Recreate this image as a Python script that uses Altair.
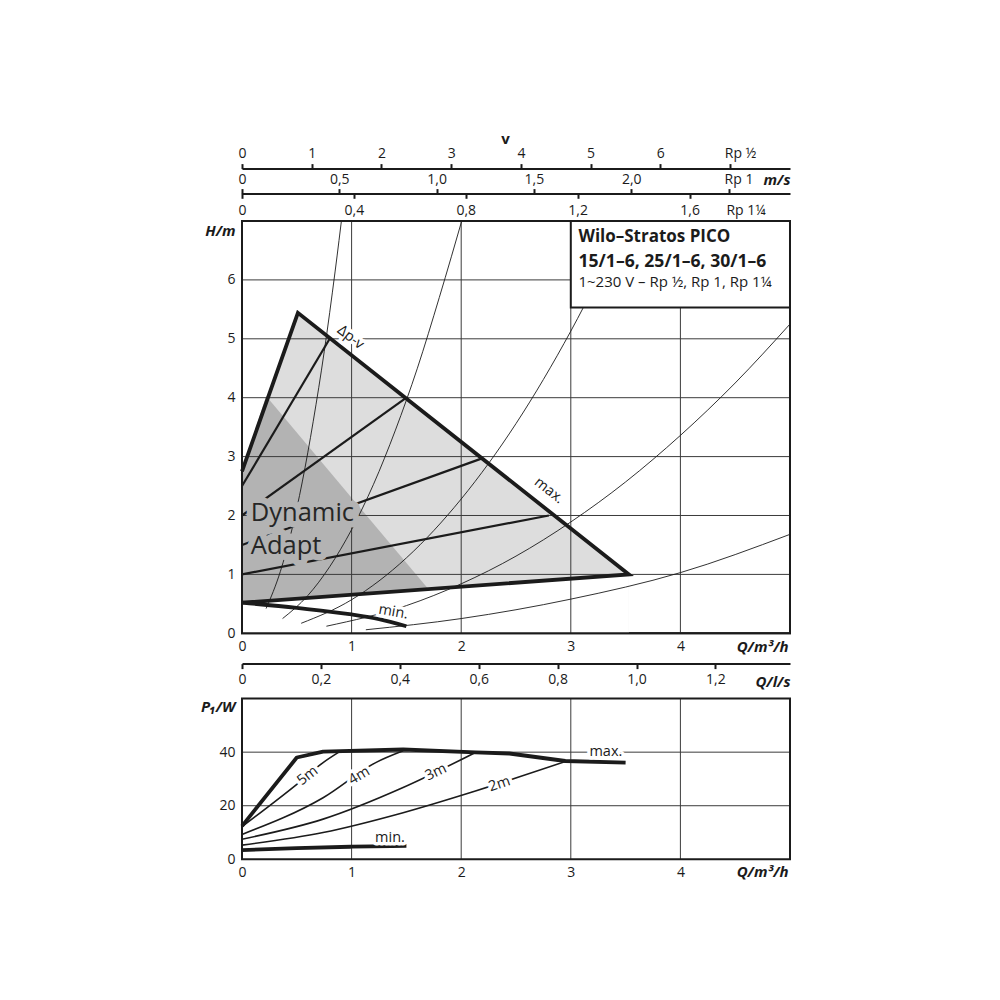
import altair as alt
import pandas as pd

FONT = "Open Sans"
INK = "#1b1b1b"
GRID = "#3a3a3a"
LIGHT = "#dddddd"
DARK = "#b3b3b3"

PLOT_W = 548
TOP_H = 412.3          # height of the H(Q) panel
BOT_TOP = 477.6        # top edge of the P1(Q) panel, measured from the top of the H(Q) panel
BOT_BOTTOM = 638.3     # bottom edge of the P1(Q) panel

# ---------------- scale extents ----------------
Q_MAX = 5.0
H_MAX = 7.0
P_MAX = 60.0
LS_AT_QMAX = 1.389
V12_AT_QMAX = 7.86
V1_AT_QMAX = 2.816
V114_AT_QMAX = 1.959

# ---------------- tick values ----------------
q_ticks = [0, 1, 2, 3, 4]
h_ticks = [0, 1, 2, 3, 4, 5, 6]
p_ticks = [0, 20, 40]
grid_q = [1, 2, 3, 4]
grid_h = [1, 2, 3, 4, 5, 6]
grid_p = [20, 40]
ls_ticks = [0, 0.2, 0.4, 0.6, 0.8, 1.0, 1.2]
v12_ticks = [0, 1, 2, 3, 4, 5, 6, 7]
v1_ticks = [0, 0.5, 1.0, 1.5, 2.0, 2.5]
v114_ticks = [0, 0.4, 0.8, 1.2, 1.6]
v114_labels = [0, 0.4, 0.8, 1.2, 1.6, 1.8]

# ---------------- H(Q) field ----------------
field_max_q = [0.0, 0.51, 3.53, 0.0]
field_max_h = [2.75, 5.44, 1.00, 0.52]
field_top_q = [0.0, 0.51, 3.53]
field_top_h = [2.75, 5.44, 1.00]
adapt_q = [0.0, 0.22, 1.70]
adapt_h = [2.75, 4.03, 0.75]
base_q = [0.0, 3.53]
base_h = [0.52, 1.00]
hmin_q = [0.0, 0.5, 1.0, 1.25, 1.5]
hmin_h = [0.52, 0.43, 0.32, 0.24, 0.12]

dpv_names = ["5m", "4m", "3m", "2m"]
dpv_q = [[0.0, 0.80], [0.0, 1.50], [0.0, 2.19], [0.0, 2.80]]
dpv_h = [[2.50, 5.00], [2.00, 4.00], [1.50, 2.97], [1.00, 2.00]]

sys_names = ["A", "B", "C", "D", "E"]
sys_q = [
    [0.22, 0.35, 0.45, 0.55, 0.65, 0.75, 0.85, 0.92],
    [0.37, 0.60, 0.80, 1.00, 1.20, 1.40, 1.60, 1.80, 2.02],
    [0.54, 1.00, 1.50, 2.00, 2.50, 3.00, 3.50],
    [0.77, 1.50, 2.00, 2.50, 3.00, 3.50, 4.00, 4.50, 5.00],
    [1.13, 2.00, 3.00, 4.00, 5.00],
]
sys_h = [
    [0.42, 1.05, 1.72, 2.57, 3.60, 4.78, 6.15, 7.20],
    [0.25, 0.64, 1.13, 1.76, 2.53, 3.45, 4.50, 5.70, 7.10],
    [0.17, 0.57, 1.28, 2.28, 3.56, 5.13, 6.98],
    [0.12, 0.47, 0.84, 1.31, 1.89, 2.57, 3.36, 4.25, 5.25],
    [0.06, 0.25, 0.58, 1.03, 1.68],
]

top_lab_q = [0.99, 2.80, 1.38]
top_lab_h = [5.02, 2.42, 0.36]
top_lab_t = ["\u0394p-v", "max.", "min."]
top_lab_a = [38, 38, 10]

da_q = [0.08, 0.08]
da_h = [2.05, 1.49]
da_t = ["Dynamic", "Adapt"]

box_q1, box_q2, box_h1, box_h2 = [3.0], [5.0], [5.53], [7.0]
box_text_q = 3.07
box_bold_h = [6.73, 6.30]
box_bold_t = ["Wilo\u2013Stratos PICO", "15/1\u20136, 25/1\u20136, 30/1\u20136"]
box_bold_s = [17, 17.6]
box_reg_h = [5.96]
box_reg_t = ["1~230 V \u2013 Rp \u00bd, Rp 1, Rp 1\u00bc"]

# ---------------- P1(Q) ----------------
pmax_q = [0.0, 0.50, 0.74, 1.47, 2.13, 2.44, 2.95, 3.50]
pmax_p = [12.4, 38.0, 40.2, 41.0, 39.9, 39.5, 36.7, 36.1]
pmin_q = [0.0, 0.5, 1.0, 1.5]
pmin_p = [3.4, 4.2, 4.7, 5.0]
p_names = ["5m", "4m", "3m", "2m"]
p_q = [[0.0, 0.50, 0.74, 0.88],
       [0.0, 0.74, 1.22, 1.47],
       [0.0, 0.74, 1.47, 2.13],
       [0.0, 0.74, 1.47, 2.13, 2.95]]
p_p = [[12.2, 28.0, 36.1, 39.9],
       [9.3, 23.0, 36.1, 40.5],
       [7.5, 15.0, 26.8, 39.9],
       [5.3, 10.0, 17.4, 25.5, 36.5]]

bot_lab_q = [0.60, 1.07, 1.77, 2.35, 1.35, 3.32]
bot_lab_p = [31.1, 31.1, 32.4, 28.0, 8.1, 40.1]
bot_lab_t = ["5m", "4m", "3m", "2m", "min.", "max."]
bot_lab_a = [322, 329, 334, 341, 0, 0]


def long_df(names, qs, vs, vname):
    rows = []
    for n, ql, vl in zip(names, qs, vs):
        for i, (a, b) in enumerate(zip(ql, vl)):
            rows.append({"c": n, "i": i, "q": a, vname: b})
    return pd.DataFrame(rows)


COMMA = "datum.value == 0 ? '0' : replace(format(datum.value, '.1f'), '.', ',')"
TITLE_KW = dict(titleFont=FONT, titleFontWeight="bold", titleFontStyle="italic",
                titleFontSize=15, titleColor=INK, titleAngle=0, titleBaseline="middle")
LABEL_KW = dict(labelFont=FONT, labelFontSize=14, labelColor=INK, labelFlush=False,
                labelOverlap=False, grid=False)


def XQ(axis=None, field="q"):
    return alt.X(f"{field}:Q", scale=alt.Scale(domain=[0, Q_MAX], nice=False, zero=False), axis=axis)


def YH(axis=None, field="h"):
    return alt.Y(f"{field}:Q", scale=alt.Scale(domain=[0, H_MAX], range=[TOP_H, 0], nice=False,
                                               zero=False), axis=axis)


def YP(axis=None, field="p"):
    return alt.Y(f"{field}:Q", scale=alt.Scale(domain=[0, P_MAX], range=[BOT_BOTTOM, BOT_TOP],
                                               nice=False, zero=False), axis=axis)


layers = []

# ---------- H(Q) panel ----------
layers.append(alt.Chart(pd.DataFrame({"q": field_top_q, "h": field_top_h})).mark_area(
    color=LIGHT).encode(x=XQ(), y=YH()))
layers.append(alt.Chart(pd.DataFrame({"q": adapt_q, "h": adapt_h})).mark_area(
    color=DARK).encode(x=XQ(), y=YH()))
layers.append(alt.Chart(pd.DataFrame({"q": base_q, "h": base_h})).mark_area(
    color="white").encode(x=XQ(), y=YH()))

x_top_axis = alt.Axis(orient="bottom", values=q_ticks, ticks=False, tickSize=0, domain=False,
                      labelPadding=6, title="Q/m\u00b3/h", titleX=546, titleY=13.7,
                      titleAlign="right", **TITLE_KW, **LABEL_KW)
y_top_axis = alt.Axis(orient="left", values=h_ticks, ticks=False, tickSize=0, domain=False,
                      labelPadding=7, title="H/m", titleX=-7, titleY=9.3, titleAlign="right",
                      **TITLE_KW, **LABEL_KW)
layers.append(alt.Chart(pd.DataFrame({"q": grid_q})).mark_rule(color=GRID, strokeWidth=1).encode(
    x=XQ(x_top_axis)))
layers.append(alt.Chart(pd.DataFrame({"h": grid_h})).mark_rule(color=GRID, strokeWidth=1).encode(
    y=YH(y_top_axis)))

layers.append(alt.Chart(long_df(sys_names, sys_q, sys_h, "h")).mark_line(
    color=INK, strokeWidth=0.9, interpolate="monotone", clip=True).encode(
    x=XQ(), y=YH(), detail="c:N", order="i:Q"))
layers.append(alt.Chart(long_df(dpv_names, dpv_q, dpv_h, "h")).mark_line(
    color=INK, strokeWidth=2.2).encode(x=XQ(), y=YH(), detail="c:N", order="i:Q"))
max_df = pd.DataFrame({"q": field_max_q, "h": field_max_h, "i": range(len(field_max_q))})
layers.append(alt.Chart(max_df).mark_line(color=INK, strokeWidth=3.8, strokeJoin="miter").encode(
    x=XQ(), y=YH(), order="i:Q"))
layers.append(alt.Chart(pd.DataFrame({"q": hmin_q, "h": hmin_h})).mark_line(
    color=INK, strokeWidth=3.8, interpolate="monotone").encode(x=XQ(), y=YH()))

top_lab_df = pd.DataFrame({"q": top_lab_q, "h": top_lab_h, "t": top_lab_t, "a": top_lab_a})
layers.append(alt.Chart(top_lab_df).mark_text(
    font=FONT, fontSize=14.5, color="white", stroke="white", strokeWidth=7, strokeJoin="round",
    baseline="middle").encode(x=XQ(), y=YH(), text="t:N", angle=alt.Angle("a:Q", scale=None)))
layers.append(alt.Chart(top_lab_df).mark_text(
    font=FONT, fontSize=14.5, color=INK, baseline="middle").encode(
    x=XQ(), y=YH(), text="t:N", angle=alt.Angle("a:Q", scale=None)))

da_df = pd.DataFrame({"q": da_q, "h": da_h, "t": da_t})
layers.append(alt.Chart(da_df).mark_text(
    font=FONT, fontSize=25.5, align="left", baseline="middle", color=DARK, stroke=DARK,
    strokeWidth=13, strokeJoin="round").encode(x=XQ(), y=YH(), text="t:N"))
layers.append(alt.Chart(da_df).mark_text(
    font=FONT, fontSize=25.5, align="left", baseline="middle", color="#262626").encode(
    x=XQ(), y=YH(), text="t:N"))

box_df = pd.DataFrame({"q": box_q1, "q2": box_q2, "h": box_h1, "h2": box_h2})
layers.append(alt.Chart(box_df).mark_rect(fill="white", stroke=INK, strokeWidth=2).encode(
    x=XQ(), x2="q2:Q", y=YH(), y2="h2:Q"))
layers.append(alt.Chart(pd.DataFrame({"q": [box_text_q] * 2, "h": box_bold_h, "t": box_bold_t,
                                      "s": box_bold_s})).mark_text(
    font=FONT, fontWeight="bold", align="left", baseline="middle", color=INK).encode(
    x=XQ(), y=YH(), text="t:N", size=alt.Size("s:Q", scale=None)))
layers.append(alt.Chart(pd.DataFrame({"q": [box_text_q], "h": box_reg_h, "t": box_reg_t})).mark_text(
    font=FONT, fontSize=15, align="left", baseline="middle", color=INK).encode(
    x=XQ(), y=YH(), text="t:N"))

top_frame = pd.DataFrame({"q": [0.0], "q2": [Q_MAX], "h": [0.0], "h2": [H_MAX]})
layers.append(alt.Chart(top_frame).mark_rect(fillOpacity=0, stroke=INK, strokeWidth=2).encode(
    x=XQ(), x2="q2:Q", y=YH(), y2="h2:Q"))


# ---------- velocity / l/s axes ----------
def axis_layer(values, dmax, axis):
    return alt.Chart(pd.DataFrame({"v": values})).mark_point(opacity=0).encode(
        x=alt.X("v:Q", scale=alt.Scale(domain=[0, dmax], nice=False, zero=False), axis=axis))


layers.append(axis_layer(v12_ticks, V12_AT_QMAX, alt.Axis(
    orient="top", offset=52.4, values=v12_ticks,
    labelExpr="datum.value == 7 ? 'Rp \u00bd' : format(datum.value, 'd')",
    labelOffset={"condition": {"test": "datum.value == 7", "value": 10}, "value": 0},
    labelPadding=3, domain=True, domainColor=INK, domainWidth=2,
    ticks=True, tickSize=5, tickWidth=2, tickColor=INK,
    title="v", titleFont=FONT, titleFontWeight="bold", titleFontSize=15, titleColor=INK,
    titleX=263, titleY=-30, titleAngle=0, titleAlign="center", titleBaseline="middle",
    **LABEL_KW)))
layers.append(axis_layer(v1_ticks, V1_AT_QMAX, alt.Axis(
    orient="top", offset=27.4, values=v1_ticks,
    labelExpr="datum.value == 2.5 ? 'Rp 1' : " + COMMA,
    labelOffset={"condition": {"test": "datum.value == 2.5", "value": 10}, "value": 0},
    labelPadding=2, domain=True, domainColor=INK, domainWidth=2,
    ticks=True, tickSize=5, tickWidth=2, tickColor=INK,
    title="m/s", titleX=534.5, titleY=-14, titleAlign="center", **TITLE_KW, **LABEL_KW)))
layers.append(axis_layer(v114_labels, V114_AT_QMAX, alt.Axis(
    orient="top", offset=0, values=v114_labels,
    labelExpr="datum.value == 1.8 ? 'Rp 1\u00bc' : " + COMMA,
    labelPadding=3, domain=False, ticks=False, tickSize=0, title=None, **LABEL_KW)))
layers.append(axis_layer(v114_ticks, V114_AT_QMAX, alt.Axis(
    orient="top", offset=22.7, values=v114_ticks, labels=False, domain=False,
    ticks=True, tickSize=5, tickWidth=2, tickColor=INK, title=None, grid=False)))
layers.append(axis_layer(ls_ticks, LS_AT_QMAX, alt.Axis(
    orient="bottom", offset=30.3, values=ls_ticks, labelExpr=COMMA,
    labelPadding=4, domain=True, domainColor=INK, domainWidth=2,
    ticks=True, tickSize=5, tickWidth=2, tickColor=INK,
    title="Q/l/s", titleX=548, titleY=17.7, titleAlign="right", **TITLE_KW, **LABEL_KW)))

# ---------- P1(Q) panel ----------
x_bot_axis = alt.Axis(orient="bottom", offset=BOT_BOTTOM - TOP_H, values=q_ticks, ticks=False,
                      tickSize=0, domain=False, labelPadding=6, title="Q/m\u00b3/h", titleX=546,
                      titleY=12.7, titleAlign="right", **TITLE_KW, **LABEL_KW)
y_bot_axis = alt.Axis(orient="left", values=p_ticks, ticks=False, tickSize=0, domain=False,
                      labelPadding=7, title="P\u2081/W", titleX=-7, titleY=BOT_TOP + 8.4,
                      titleAlign="right", **TITLE_KW, **LABEL_KW)

bgv = pd.DataFrame({"q": grid_q, "p": [0.0] * len(grid_q), "p2": [P_MAX] * len(grid_q)})
layers.append(alt.Chart(bgv).mark_rule(color=GRID, strokeWidth=1).encode(
    x=XQ(x_bot_axis), y=YP(), y2="p2:Q"))
bgh = pd.DataFrame({"p": grid_p, "q": [0.0] * len(grid_p), "q2": [Q_MAX] * len(grid_p)})
layers.append(alt.Chart(bgh).mark_rule(color=GRID, strokeWidth=1).encode(
    y=YP(y_bot_axis), x=XQ(), x2="q2:Q"))

layers.append(alt.Chart(long_df(p_names, p_q, p_p, "p")).mark_line(
    color=INK, strokeWidth=1.6, interpolate="monotone").encode(
    x=XQ(), y=YP(), detail="c:N", order="i:Q"))
layers.append(alt.Chart(pd.DataFrame({"q": pmax_q, "p": pmax_p})).mark_line(
    color=INK, strokeWidth=3.8, strokeJoin="round").encode(x=XQ(), y=YP()))
layers.append(alt.Chart(pd.DataFrame({"q": pmin_q, "p": pmin_p})).mark_line(
    color=INK, strokeWidth=3.8, interpolate="monotone").encode(x=XQ(), y=YP()))
bot_lab_df = pd.DataFrame({"q": bot_lab_q, "p": bot_lab_p, "t": bot_lab_t, "a": bot_lab_a})
layers.append(alt.Chart(bot_lab_df).mark_text(
    font=FONT, fontSize=14.5, color="white", stroke="white", strokeWidth=7, strokeJoin="round",
    baseline="middle").encode(x=XQ(), y=YP(), text="t:N", angle=alt.Angle("a:Q", scale=None)))
layers.append(alt.Chart(bot_lab_df).mark_text(
    font=FONT, fontSize=14.5, color=INK, baseline="middle").encode(
    x=XQ(), y=YP(), text="t:N", angle=alt.Angle("a:Q", scale=None)))

frame = pd.DataFrame({"q": [0.0], "q2": [Q_MAX], "p": [0.0], "p2": [P_MAX]})
layers.append(alt.Chart(frame).mark_rect(fillOpacity=0, stroke=INK, strokeWidth=2).encode(
    x=XQ(), x2="q2:Q", y=YP(), y2="p2:Q"))

chart = alt.layer(*layers).resolve_scale(x="independent", y="independent").properties(
    width=PLOT_W, height=TOP_H,
    padding={"left": 192, "top": 123, "right": 10, "bottom": 10}
).configure_view(stroke=INK, strokeWidth=2).configure_axis(
    labelFont=FONT, labelFontSize=14, labelColor=INK, titleFont=FONT, titleColor=INK)

chart.save("out.html", embed_options={"renderer": "svg", "actions": False})
